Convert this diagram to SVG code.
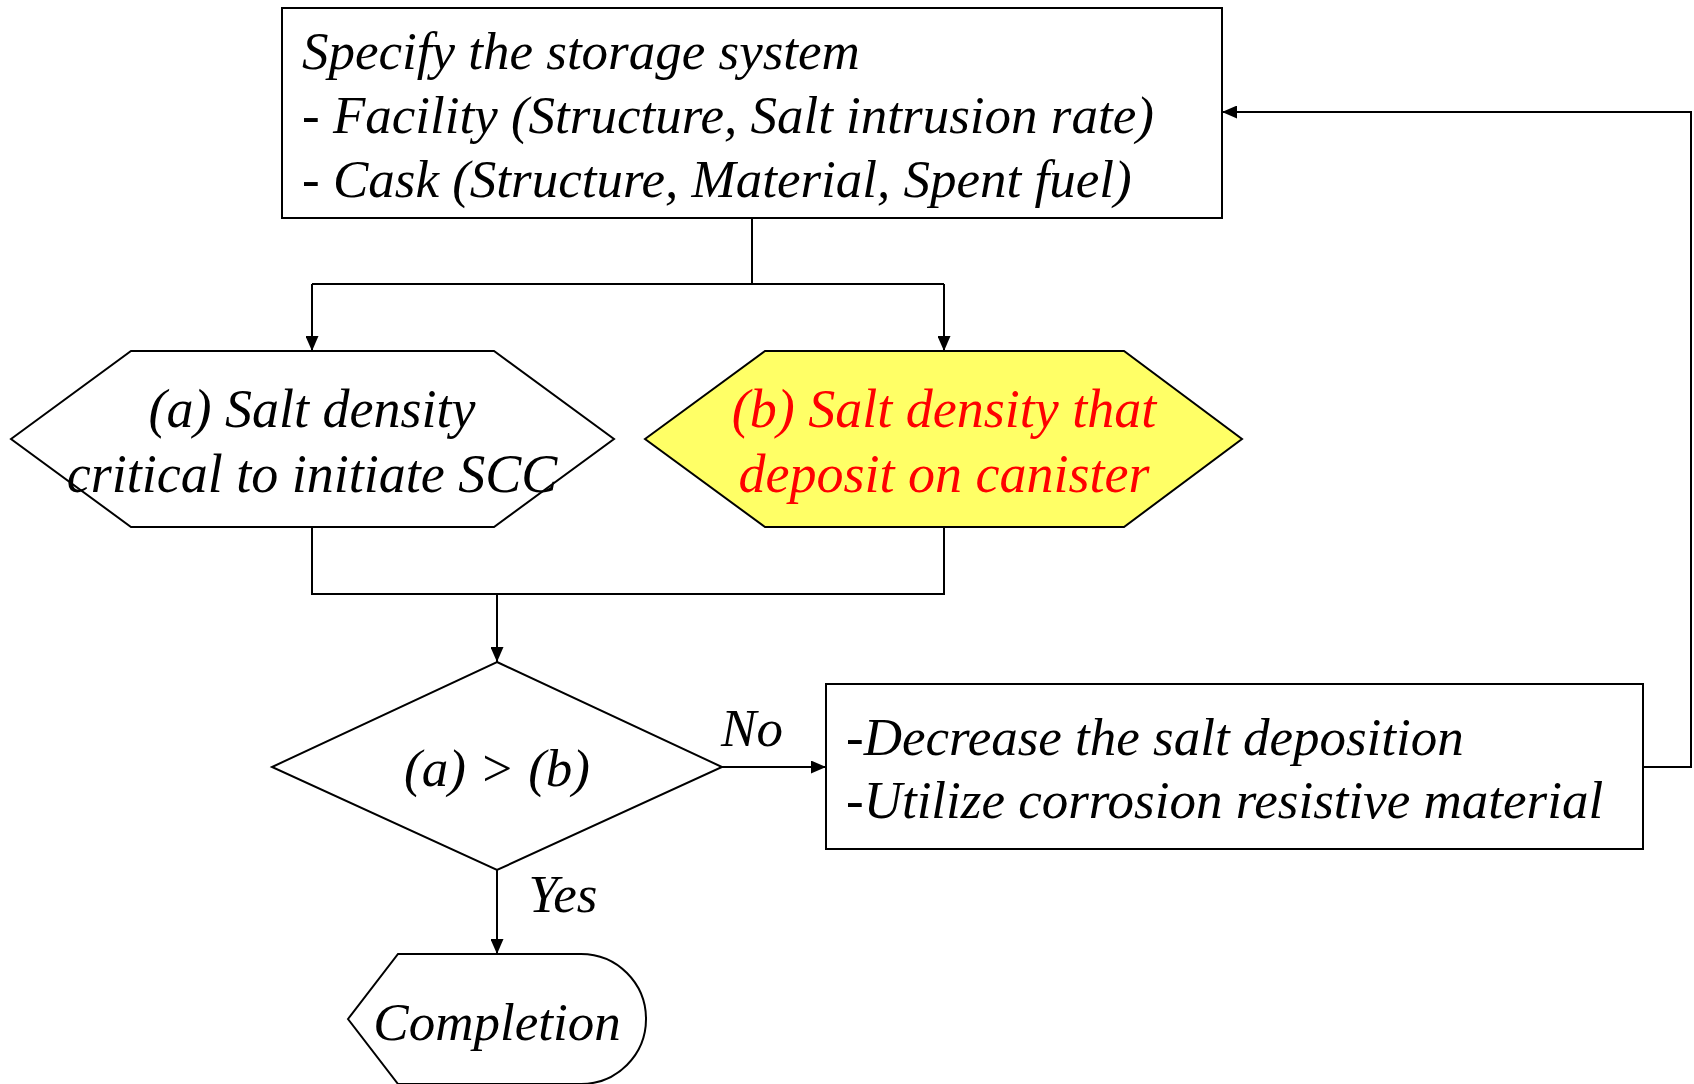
<svg xmlns="http://www.w3.org/2000/svg" width="1694" height="1084" viewBox="0 0 1694 1084">
<style>
.shape{fill:#fff;stroke:#000;stroke-width:2}
.t{font-family:'Liberation Serif','DejaVu Serif',serif;font-style:italic;font-size:53px;fill:#000}
.h{font-size:54px}
.c{text-anchor:middle}
.red{fill:#FF0000}
.line{fill:none;stroke:#000;stroke-width:2}
</style>
<defs>
<marker id="arr" markerWidth="15" markerHeight="13" refX="15" refY="6.5" orient="auto" markerUnits="userSpaceOnUse">
<path d="M0,0 L15,6.5 L0,13 Z" fill="#000"/>
</marker>
</defs>
<rect width="1694" height="1084" fill="#fff"/>
<g id="connectors">
<path class="line" d="M752,218 V284 M312,284 H944"/>
<path class="line" d="M312,284 V351" marker-end="url(#arr)"/>
<path class="line" d="M944,284 V351" marker-end="url(#arr)"/>
<path class="line" d="M312,527 V594 H944 V527"/>
<path class="line" d="M497,594 V662" marker-end="url(#arr)"/>
<path class="line" d="M722,767 H826" marker-end="url(#arr)"/>
<path class="line" d="M497,870 V954" marker-end="url(#arr)"/>
<path class="line" d="M1643,767 H1691 V112 H1222" marker-end="url(#arr)"/>
<text class="t c" x="752" y="746">No</text>
<text class="t c" x="563" y="912">Yes</text>
</g>
<g id="node-specify">
<rect class="shape" x="282" y="8" width="940" height="210"/>
<text class="t" x="302" y="69">Specify the storage system</text>
<text class="t" x="302" y="133">- Facility (Structure, Salt intrusion rate)</text>
<text class="t" x="302" y="197">- Cask (Structure, Material, Spent fuel)</text>
</g>
<g id="node-a">
<polygon class="shape" points="11,439 131,351 494,351 614,439 494,527 131,527"/>
<text class="t h c" x="312" y="427">(a) Salt density</text>
<text class="t h c" x="312" y="492">critical to initiate SCC</text>
</g>
<g id="node-b">
<polygon class="shape" style="fill:#FFFF66" points="645,439 765,351 1124,351 1242,439 1124,527 765,527"/>
<text class="t h c red" x="944" y="427">(b) Salt density that</text>
<text class="t h c red" x="944" y="492">deposit on canister</text>
</g>
<g id="node-decision">
<polygon class="shape" points="497,662 722,767 497,870 272,767"/>
<text class="t c" x="497" y="786">(a) &gt; (b)</text>
</g>
<g id="node-measures">
<rect class="shape" x="826" y="684" width="817" height="165"/>
<text class="t" x="846" y="755">-Decrease the salt deposition</text>
<text class="t" x="846" y="818">-Utilize corrosion resistive material</text>
</g>
<g id="node-completion">
<path class="shape" d="M348,1019 L398,954 H581 A65,65 0 0 1 581,1084 H398 Z"/>
<text class="t c" x="497" y="1040">Completion</text>
</g>
</svg>
